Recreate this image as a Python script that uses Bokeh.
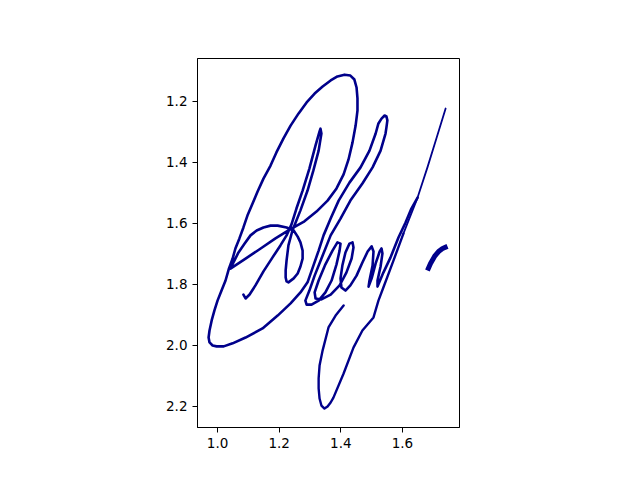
from bokeh.embed import file_html
from bokeh.models import FixedTicker, PrintfTickFormatter, Range1d
from bokeh.plotting import figure
from bokeh.resources import INLINE

# signature strokes (x, y in data units; y axis inverted)
main_x = [1.084, 1.091, 1.104, 1.123, 1.149, 1.178, 1.204, 1.224, 1.240, 1.256,
          1.276, 1.298, 1.318, 1.331, 1.334, 1.337, 1.328, 1.311, 1.292, 1.269,
          1.243, 1.230, 1.224, 1.221, 1.221, 1.224, 1.230,
          1.247, 1.260, 1.269, 1.276, 1.276, 1.269, 1.260, 1.247, 1.224, 1.195,
          1.172, 1.149, 1.127, 1.107, 1.088, 1.068, 1.055, 1.045, 1.042,
          1.091, 1.140, 1.188, 1.234,
          1.282, 1.321, 1.357, 1.386, 1.409, 1.425, 1.438, 1.448, 1.454, 1.454,
          1.451, 1.444, 1.431, 1.412, 1.389, 1.367, 1.341, 1.315, 1.289, 1.263,
          1.237, 1.214, 1.191, 1.172, 1.149, 1.130, 1.114, 1.097, 1.084, 1.071,
          1.058, 1.049, 1.036, 1.026, 1.013, 1.000, 0.990, 0.981, 0.974, 0.971,
          0.974, 0.984, 0.997, 1.020, 1.049, 1.091, 1.146, 1.195, 1.237, 1.269,
          1.292, 1.311, 1.328, 1.344, 1.367, 1.393, 1.428, 1.464, 1.493, 1.513,
          1.522, 1.532, 1.542, 1.548, 1.551, 1.548, 1.545, 1.529, 1.503, 1.470,
          1.431, 1.399, 1.367, 1.341, 1.315, 1.298, 1.285, 1.289, 1.305, 1.328,
          1.350, 1.370, 1.386, 1.396, 1.399, 1.389, 1.373, 1.350, 1.328, 1.315,
          1.318, 1.337, 1.367, 1.396, 1.418, 1.435, 1.441, 1.438, 1.428, 1.415,
          1.405, 1.399, 1.402, 1.415, 1.431, 1.451, 1.470, 1.487, 1.500, 1.506,
          1.503, 1.493, 1.490, 1.500, 1.513, 1.526, 1.532, 1.535, 1.529, 1.519,
          1.519, 1.538, 1.561, 1.587, 1.610, 1.629, 1.649]
main_y = [1.833, 1.846, 1.833, 1.803, 1.757, 1.712, 1.672, 1.639, 1.603, 1.551,
          1.492, 1.420, 1.344, 1.298, 1.289, 1.305, 1.361, 1.426, 1.492, 1.557,
          1.623, 1.672, 1.721, 1.754, 1.777, 1.790, 1.793,
          1.780, 1.764, 1.741, 1.715, 1.689, 1.662, 1.643, 1.623, 1.613, 1.607,
          1.607, 1.613, 1.623, 1.639, 1.666, 1.695, 1.721, 1.741, 1.748,
          1.715, 1.682, 1.649, 1.620,
          1.593, 1.561, 1.525, 1.485, 1.439, 1.390, 1.334, 1.279, 1.230, 1.190,
          1.154, 1.128, 1.115, 1.112, 1.118, 1.131, 1.151, 1.174, 1.203, 1.239,
          1.279, 1.321, 1.367, 1.410, 1.453, 1.495, 1.534, 1.574, 1.613, 1.649,
          1.682, 1.715, 1.751, 1.787, 1.820, 1.853, 1.885, 1.918, 1.951, 1.974,
          1.990, 2.000, 2.003, 2.003, 1.993, 1.974, 1.944, 1.902, 1.862, 1.826,
          1.793, 1.738, 1.689, 1.639, 1.584, 1.525, 1.466, 1.416, 1.361, 1.305,
          1.272, 1.256, 1.246, 1.249, 1.262, 1.285, 1.305, 1.361, 1.416, 1.469,
          1.525, 1.584, 1.639, 1.705, 1.771, 1.820, 1.853, 1.866, 1.866, 1.853,
          1.826, 1.787, 1.734, 1.689, 1.666, 1.662, 1.689, 1.734, 1.787, 1.826,
          1.846, 1.849, 1.833, 1.803, 1.761, 1.715, 1.679, 1.662, 1.666, 1.695,
          1.738, 1.780, 1.810, 1.820, 1.803, 1.771, 1.728, 1.692, 1.675, 1.692,
          1.738, 1.787, 1.807, 1.780, 1.731, 1.692, 1.682, 1.698, 1.741, 1.787,
          1.807, 1.761, 1.712, 1.646, 1.597, 1.551, 1.515]

y_top_x = [1.740, 1.710, 1.681, 1.649, 1.603]
y_top_y = [1.223, 1.321, 1.416, 1.515, 1.633]

y_tail_x = [1.603, 1.571, 1.538, 1.522, 1.506, 1.470, 1.441, 1.409, 1.376, 1.367,
            1.357, 1.347, 1.337, 1.331, 1.328, 1.328, 1.331, 1.341, 1.360, 1.383,
            1.409]
y_tail_y = [1.633, 1.721, 1.810, 1.853, 1.908, 1.951, 2.007, 2.092, 2.171, 2.187,
            2.200, 2.207, 2.197, 2.174, 2.141, 2.108, 2.066, 2.016, 1.941, 1.902,
            1.869]

dot_x = [1.681, 1.691, 1.704, 1.717, 1.730, 1.746]
dot_y = [1.754, 1.731, 1.708, 1.692, 1.682, 1.675]

x_ticks = [1.0, 1.2, 1.4, 1.6]
y_ticks = [1.2, 1.4, 1.6, 1.8, 2.0, 2.2]

ink = "#00008b"

p = figure(output_backend="svg", toolbar_location=None,
           frame_width=262, frame_height=369,
           min_border_left=197, min_border_right=165,
           min_border_top=58, min_border_bottom=37,
           x_range=Range1d(0.935, 1.785), y_range=Range1d(2.269, 1.059))

p.line(main_x, main_y, line_color=ink, line_width=2.6,
       line_join="round", line_cap="round")
p.line(y_top_x, y_top_y, line_color=ink, line_width=1.8,
       line_join="round", line_cap="round")
p.line(y_tail_x, y_tail_y, line_color=ink, line_width=2.4,
       line_join="round", line_cap="round")
p.line(dot_x, dot_y, line_color=ink, line_width=5,
       line_join="round", line_cap="butt")

p.grid.visible = False
p.outline_line_color = "black"
p.outline_line_width = 1
p.background_fill_color = "white"
p.border_fill_color = "white"

p.xaxis.ticker = FixedTicker(ticks=x_ticks)
p.yaxis.ticker = FixedTicker(ticks=y_ticks)
for ax in (p.xaxis, p.yaxis):
    ax.formatter = PrintfTickFormatter(format="%.1f")
    ax.minor_tick_line_color = None
    ax.major_tick_in = 0
    ax.major_tick_out = 5
    ax.major_tick_line_color = "black"
    ax.axis_line_color = "black"
    ax.major_label_text_font = "DejaVu Sans"
    ax.major_label_text_font_size = "13.5px"
    ax.major_label_text_color = "black"
    ax.major_label_standoff = 5

open("out.html", "w").write(file_html(p, INLINE))
